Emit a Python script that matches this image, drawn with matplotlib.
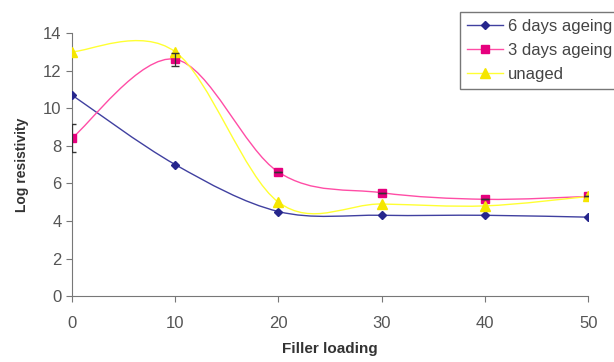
import matplotlib.pyplot as plt
from matplotlib.path import Path
from matplotlib.patches import PathPatch
from matplotlib.lines import Line2D

filler = [0, 10, 20, 30, 40, 50]
six_days = [10.7, 7.0, 4.5, 4.3, 4.3, 4.2]
three_days = [8.4, 12.6, 6.6, 5.5, 5.15, 5.3]
unaged = [13.0, 13.0, 5.0, 4.9, 4.8, 5.3]
three_days_err = [0.75, 0.35, 0, 0, 0, 0]

labels = ['6 days ageing', '3 days ageing', 'unaged']
colors = ['#4040a0', '#ff4da6', '#ffff33']
marker_colors = ['#26268c', '#e6007e', '#f5e600']
markers = ['D', 's', '^']
msizes = [4, 6, 7]


def smooth_path(x, y):
    # Excel-like smoothed line as cubic Bezier segments
    n = len(x)
    verts = [(x[0], y[0])]
    codes = [Path.MOVETO]
    for i in range(n - 1):
        i0 = max(i - 1, 0)
        i3 = min(i + 2, n - 1)
        c1 = (x[i] + (x[i + 1] - x[i0]) / 6, y[i] + (y[i + 1] - y[i0]) / 6)
        c2 = (x[i + 1] - (x[i3] - x[i]) / 6, y[i + 1] - (y[i3] - y[i]) / 6)
        verts += [c1, c2, (x[i + 1], y[i + 1])]
        codes += [Path.CURVE4] * 3
    return Path(verts, codes)


plt.rcParams['font.family'] = ['Liberation Sans', 'DejaVu Sans']

fig = plt.figure(figsize=(6.14, 3.62), dpi=100)
ax = fig.add_axes([0.117, 0.182, 0.841, 0.727])

series = [six_days, three_days, unaged]
handles = []
for ys, lab, c, mc, m, ms in zip(series, labels, colors, marker_colors, markers, msizes):
    ax.add_patch(PathPatch(smooth_path(filler, ys), facecolor='none',
                           edgecolor=c, lw=1.0, zorder=2))
    ax.plot(filler, ys, linestyle='none', marker=m, ms=ms, color=mc, zorder=3)
    handles.append(Line2D([], [], color=c, lw=1.0, marker=m, ms=ms,
                          markerfacecolor=mc, markeredgecolor=mc))

ax.errorbar(filler, three_days, yerr=three_days_err, fmt='none',
            ecolor='#333333', elinewidth=0.9, capsize=3, zorder=4)

ax.set_xlim(0, 50)
ax.set_ylim(0, 14)
ax.set_xticks(filler)
ax.set_yticks(range(0, 15, 2))
for s in ['top', 'right']:
    ax.spines[s].set_visible(False)
for s in ['left', 'bottom']:
    ax.spines[s].set_color('#777777')
ax.tick_params(colors='#777777', labelcolor='#555555', labelsize=12, length=4)
ax.tick_params(axis='x', pad=10)

ax.set_xlabel('Filler loading', fontsize=11, fontweight='bold', color='#333333', labelpad=8)
ax.set_ylabel('Log resistivity', fontsize=10, fontweight='bold', color='#333333', labelpad=10)

leg = fig.legend(handles, labels, loc='upper left', bbox_to_anchor=(0.749, 0.967),
                 borderaxespad=0, fontsize=12, frameon=True, fancybox=False,
                 handlelength=2.2, borderpad=0.4, labelspacing=0.55, handletextpad=0.3)
leg.get_frame().set_edgecolor('#555555')
leg.get_frame().set_linewidth(1.0)
for t in leg.get_texts():
    t.set_color('#444444')

fig.savefig('out.png', dpi=100)
